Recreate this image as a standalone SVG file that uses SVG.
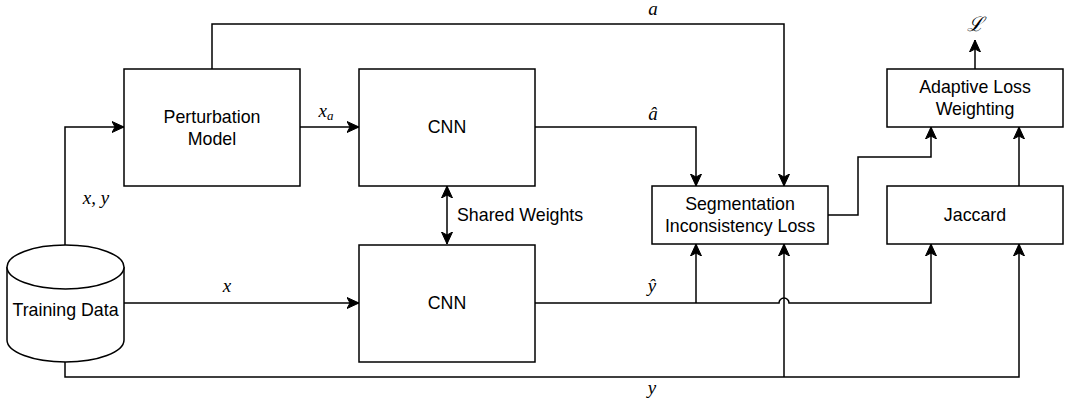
<svg xmlns="http://www.w3.org/2000/svg" width="1069" height="400" viewBox="0 0 1069 400">
<defs>
<marker id="ah" markerUnits="userSpaceOnUse" markerWidth="14" markerHeight="12" viewBox="-12 -6 14 12" refX="0" refY="0" orient="auto-start-reverse">
<path d="M-12,-5.5 L0,0 L-12,5.5 L-9,0 Z" fill="#000" stroke="#000" stroke-width="1"/>
</marker>
<style>
.box{fill:#fff;stroke:#000;stroke-width:1.5}
.lbl{font-family:"Liberation Sans",Arial,sans-serif;font-size:17.8px;fill:#000;text-anchor:middle}
.m{font-family:"Liberation Serif","Times New Roman",serif;font-style:italic;font-size:19px;fill:#000;text-anchor:middle}
.c{fill:none;stroke:#000;stroke-width:1.5}
.a{marker-end:url(#ah)}
</style>
</defs>
<rect width="1069" height="400" fill="#fff"/>
<g id="connectors">
<path class="c a" d="M65,245 V127 H124"/>
<path class="c a" d="M124,303 H359"/>
<path class="c a" d="M65,362 V377 H1019 V244"/>
<path class="c a" d="M784,377 V244"/>
<path class="c a" d="M300,127 H359"/>
<path class="c a" d="M212,69 V24 H784 V186"/>
<path class="c a" d="M535,127 H696 V186"/>
<path class="c a" d="M535,303 H779 A5,5 0 0 1 789,303 H931 V244"/>
<path class="c a" d="M696,303 V244"/>
<path class="c a" d="M447,186 V244" style="marker-start:url(#ah)"/>
<path class="c a" d="M828,215 H858 V157 H931 V127"/>
<path class="c a" d="M1019,186 V127"/>
<path class="c a" d="M975,69 V40"/>
<text class="m" x="653" y="15">a</text>
<text class="m" x="653" y="120">â</text>
<text class="m" x="652" y="292">ŷ</text>
<text class="m" x="652" y="394">y</text>
<text class="m" x="227" y="292">x</text>
<text class="m" x="96" y="204">x, y</text>
<text class="m" x="326" y="117">x<tspan font-size="13" dy="3">a</tspan></text>
<text class="m" x="975" y="31" style="font-family:'DejaVu Serif',serif;font-size:20px">ℒ</text>
<text class="lbl" x="457" y="221" style="text-anchor:start">Shared Weights</text>
</g>
<g id="perturbation">
<rect class="box" x="124" y="69" width="176" height="117"/>
<text class="lbl" x="212" y="122.5">Perturbation</text>
<text class="lbl" x="212" y="144.5">Model</text>
</g>
<g id="cnn-top">
<rect class="box" x="359" y="69" width="176" height="117"/>
<text class="lbl" x="447" y="133">CNN</text>
</g>
<g id="cnn-bottom">
<rect class="box" x="359" y="245" width="176" height="117"/>
<text class="lbl" x="447" y="309">CNN</text>
</g>
<g id="seg-loss">
<rect class="box" x="652" y="186" width="176" height="58"/>
<text class="lbl" x="740" y="210">Segmentation</text>
<text class="lbl" x="740" y="232">Inconsistency Loss</text>
</g>
<g id="adaptive">
<rect class="box" x="887" y="69" width="176" height="58"/>
<text class="lbl" x="975" y="93">Adaptive Loss</text>
<text class="lbl" x="975" y="115">Weighting</text>
</g>
<g id="jaccard">
<rect class="box" x="887" y="186" width="176" height="58"/>
<text class="lbl" x="975" y="221">Jaccard</text>
</g>
<g id="training-data">
<path class="box" d="M7,267 A58.5,22 0 0 1 124,267 V340 A58.5,22 0 0 1 7,340 Z"/>
<path class="box" d="M7,267 A58.5,22 0 0 0 124,267" fill="none"/>
<text class="lbl" x="65.5" y="316">Training Data</text>
</g>
</svg>
